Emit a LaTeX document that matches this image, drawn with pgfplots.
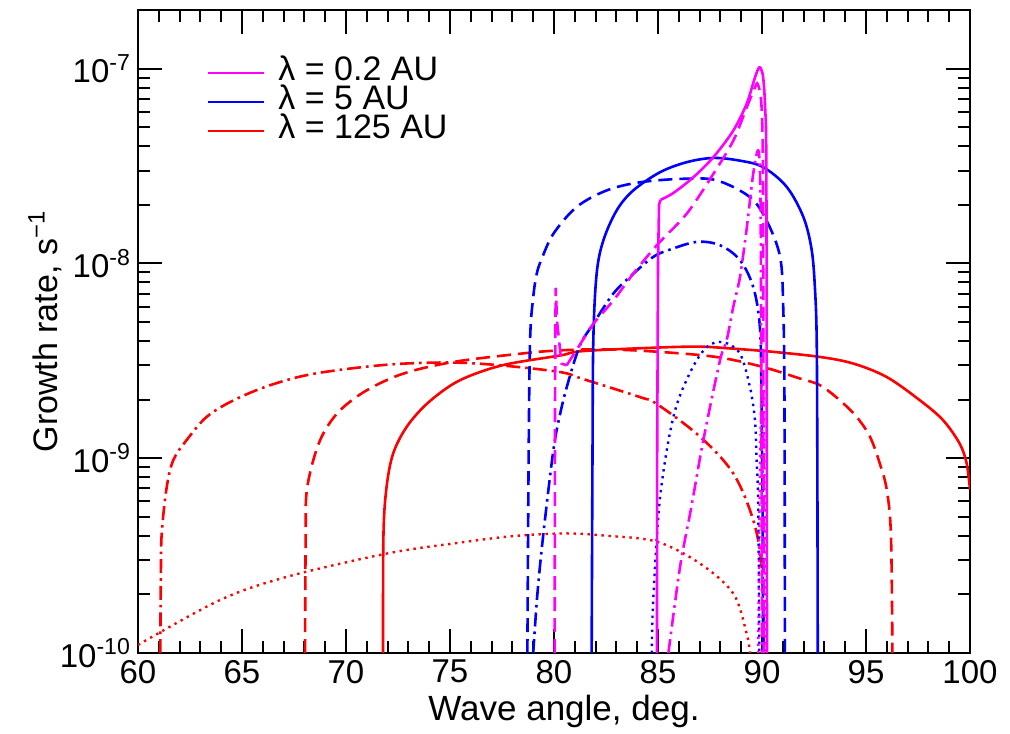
\documentclass[border=0pt]{standalone}
\usepackage{fontspec}
\setmainfont{Liberation Sans}
\usepackage{pgfplots}
\pgfplotsset{compat=1.18}
\definecolor{mag}{RGB}{255,0,255}
\definecolor{rd}{RGB}{255,0,0}
\definecolor{bl}{RGB}{0,0,255}
\begin{document}
\begin{tikzpicture}
\begin{axis}[
  scale only axis, width=416pt, height=321.5pt,
  xmin=60, xmax=100, ymin=1e-10, ymax=2e-7, ymode=log,
  xtick={60,65,...,100}, minor x tick num=4,
  ytick={1e-10,1e-9,1e-8,1e-7},
  yticklabels={10\textsuperscript{-10},10\textsuperscript{-9},10\textsuperscript{-8},10\textsuperscript{-7}},
  minor ytick={2e-10,3e-10,4e-10,5e-10,6e-10,7e-10,8e-10,9e-10,2e-9,3e-9,4e-9,5e-9,6e-9,7e-9,8e-9,9e-9,2e-8,3e-8,4e-8,5e-8,6e-8,7e-8,8e-8,9e-8},
  major tick length=12pt, minor tick length=6pt,
  every tick/.style={black, line width=1pt},
  axis line style={line width=1.2pt},
  tick label style={font=\fontsize{16.5}{19}\selectfont},
  /pgf/number format/assume math mode=true,
  xlabel={Wave angle, deg.}, ylabel={Growth rate, s\textsuperscript{−1}},
  every axis x label/.style={at={(axis description cs:0.5,0)}, anchor=center, xshift=5pt, yshift=-29pt, font=\fontsize{17.5}{20}\selectfont},
  every axis y label/.style={at={(axis description cs:0,0.5)}, xshift=-46.5pt, rotate=90, anchor=center, font=\fontsize{17}{20}\selectfont},
  legend style={at={(0.082,0.934)}, anchor=north west, draw=none, fill=none, inner sep=0pt,
    font=\fontsize{17}{19}\selectfont, nodes={inner sep=0.6pt, text height=13pt, text depth=0pt}, row sep=0.3pt},
  legend image code/.code={\draw[#1] (0pt,-3pt) -- (28pt,-3pt); \path (34pt,-3pt);},
  legend cell align=left,
]
\addlegendimage{mag, line width=1.3pt}\addlegendentry{λ = 0.2 AU}
\addlegendimage{bl, line width=1.3pt}\addlegendentry{λ = 5 AU}
\addlegendimage{rd, line width=1.3pt}\addlegendentry{λ = 125 AU}

% ---- red (125 AU)
\addplot[forget plot, rd, line width=1.3pt, smooth, tension=0.55] coordinates {
(71.78,1e-10) (71.80,4.0e-10) (71.95,7.1e-10) (72.27,1.06e-9) (72.92,1.45e-9) (73.88,1.9e-9)
(75.16,2.41e-9) (76.44,2.77e-9) (77.88,3.06e-9) (80.3,3.37e-9) (81.4,3.55e-9) (85.0,3.70e-9)
(87.0,3.74e-9) (88.5,3.66e-9) (90.5,3.52e-9) (92.8,3.31e-9) (94.4,3.06e-9) (96.0,2.61e-9)
(97.6,1.98e-9) (98.7,1.57e-9) (99.5,1.19e-9) (99.84,9.4e-10) (100,6.9e-10)};
\addplot[forget plot, rd, line width=1.3pt, smooth, tension=0.55, dash pattern=on 7pt off 3.5pt] coordinates {
(68.03,1e-10) (68.06,4e-10) (68.1,6.6e-10) (68.43,9.8e-10) (68.91,1.34e-9) (69.71,1.76e-9)
(70.99,2.23e-9) (72.76,2.72e-9) (75.16,3.12e-9) (78.37,3.44e-9) (80.29,3.58e-9) (82.5,3.62e-9)
(85,3.52e-9) (87.8,3.31e-9) (90,2.95e-9) (91.8,2.57e-9) (92.79,2.37e-9) (93.75,1.98e-9)
(94.55,1.63e-9) (95.19,1.29e-9) (95.67,9.35e-10) (96.0,6.86e-10) (96.2,4e-10) (96.27,1e-10)};
\addplot[forget plot, rd, line width=1.3pt, smooth, tension=0.55, dash pattern=on 7pt off 2.5pt on 1.3pt off 2.5pt] coordinates {
(61.07,1e-10) (61.1,2.5e-10) (61.14,4.1e-10) (61.38,7.1e-10) (61.7,9.8e-10) (62.34,1.24e-9)
(63.3,1.63e-9) (64.58,1.98e-9) (66.35,2.37e-9) (68.5,2.72e-9) (71.96,3.02e-9) (75.0,3.1e-9)
(77.4,3.0e-9) (80.29,2.77e-9) (81.4,2.55e-9) (84.13,2.06e-9) (84.94,1.9e-9) (87.02,1.29e-9)
(88.62,8.35e-10) (89.58,4.8e-10) (89.98,2.77e-10) (90.1,1e-10)};
\addplot[forget plot, rd, line width=1.2pt, smooth, tension=0.55, dash pattern=on 1.2pt off 2.3pt] coordinates {
(60,1.1e-10) (63.94,1.87e-10) (67.15,2.46e-10) (71.96,3.24e-10) (75.16,3.65e-10) (78.0,3.98e-10)
(80.61,4.11e-10) (82.5,4.0e-10) (84.94,3.73e-10) (87.02,2.88e-10) (88.62,2.02e-10)
(89.26,1.26e-10) (89.42,1e-10)};

% ---- blue (5 AU)
\addplot[forget plot, bl, line width=1.3pt, smooth, tension=0.55] coordinates {
(81.81,1e-10) (81.85,1e-9) (81.89,4.03e-9) (82.05,8.85e-9) (82.37,1.31e-8) (83.01,1.87e-8)
(83.81,2.37e-8) (85.1,2.94e-8) (86.38,3.31e-8) (87.66,3.48e-8) (88.94,3.37e-8) (90.06,3.12e-8)
(91.19,2.47e-8) (91.99,1.73e-8) (92.39,1.17e-8) (92.55,7.3e-9) (92.63,4.03e-9) (92.66,1e-9)
(92.68,1e-10)};
\addplot[forget plot, bl, line width=1.3pt, smooth, tension=0.55, dash pattern=on 7pt off 3.5pt] coordinates {
(78.72,1e-10) (78.78,1e-9) (78.85,4.03e-9) (79.0,6.7e-9) (79.17,8.85e-9) (79.4,1.05e-8)
(79.97,1.42e-8) (81.09,1.95e-8) (82.53,2.37e-8) (84.13,2.61e-8) (86.22,2.72e-8) (87.82,2.67e-8)
(89.42,2.19e-8) (90.22,1.66e-8) (90.87,1.08e-8) (91.02,5.97e-9) (91.08,2e-9) (91.1,1e-10)};
\addplot[forget plot, bl, line width=1.3pt, smooth, tension=0.55, dash pattern=on 7pt off 2.5pt on 1.3pt off 2.5pt] coordinates {
(79.0,1e-10) (79.2,2e-10) (79.49,4.1e-10) (79.97,1.1e-9) (80.3,1.7e-9) (80.7,2.5e-9)
(81.25,3.8e-9) (81.89,4.9e-9) (82.85,7.0e-9) (83.81,8.85e-9) (84.77,1.08e-8) (85.5,1.17e-8)
(86.86,1.29e-8) (87.98,1.24e-8) (88.94,1.04e-8) (89.58,7.55e-9) (89.9,4.7e-9) (89.98,2e-9)
(90.03,5e-10) (90.05,1e-10)};
\addplot[forget plot, bl, line width=1.2pt, smooth, tension=0.55, dash pattern=on 1.2pt off 2.3pt] coordinates {
(84.7,1e-10) (84.77,1.87e-10) (85.1,6.3e-10) (85.74,1.63e-9) (86.54,2.75e-9) (87.34,3.72e-9)
(88.14,3.94e-9) (88.94,3.44e-9) (89.42,2.32e-9) (89.66,1.57e-9) (89.74,9.8e-10) (89.82,5.6e-10)
(89.87,1e-10)};

% ---- magenta (0.2 AU)
\addplot[forget plot, mag, line width=1.3pt] coordinates {
(84.95,1e-10) (84.96,1e-9) (85.0,1.0e-8) (85.05,2.0e-8) (85.12,2.12e-8)};
\addplot[forget plot, mag, line width=1.3pt, smooth, tension=0.5] coordinates {
(85.12,2.12e-8) (85.74,2.3e-8)
(86.7,2.77e-8) (87.66,3.51e-8) (88.62,4.81e-8) (89.26,6.59e-8) (89.66,9.0e-8) (89.87,1.016e-7)
(90.02,9.5e-8) (90.1,8.0e-8) (90.16,6.0e-8) (90.2,4.3e-8) (90.22,1e-8) (90.24,1e-10)};
\addplot[forget plot, mag, line width=1.3pt, dash pattern=on 7pt off 3.5pt] coordinates {
(80.03,1e-10) (80.05,2e-9) (80.08,7.5e-9) (80.15,5e-9) (80.36,3.06e-9) (80.61,3.0e-9)};
\addplot[forget plot, mag, line width=1.3pt, smooth, tension=0.5, dash pattern=on 7pt off 3.5pt] coordinates {
(80.61,3.0e-9)
(81.17,3.72e-9) (81.89,4.9e-9) (82.85,6.45e-9) (83.81,8.85e-9) (84.94,1.24e-8) (86.38,1.8e-8)
(87.66,2.88e-8) (88.62,4.27e-8) (89.26,6.3e-8) (89.66,8.0e-8) (89.8,8.3e-8) (89.98,6.3e-8)
(90.05,2e-8) (90.08,1e-10)};
\addplot[forget plot, mag, line width=1.3pt, smooth, tension=0.5, dash pattern=on 7pt off 2.5pt on 1.3pt off 2.5pt] coordinates {
(85.5,1e-10) (86.06,2.77e-10) (86.6,5.6e-10) (87.18,1.24e-9) (87.98,3.18e-9) (88.3,4.03e-9)
(88.62,6.0e-9) (88.94,8.5e-9) (89.26,1.5e-8) (89.58,2.9e-8) (89.82,3.8e-8) (89.92,2.5e-8)
(89.96,5e-9) (90.0,1e-10)};
\addplot[forget plot, mag, line width=1.2pt, dash pattern=on 1.2pt off 2.3pt] coordinates {
(89.82,1e-10) (89.88,6e-10) (89.95,1.8e-9) (90.02,2.8e-9) (90.08,2.2e-9) (90.12,8e-10)
(90.15,1e-10)};
\end{axis}
\path ([xshift=-69pt,yshift=-40pt]current axis.south west) rectangle ([xshift=20pt,yshift=5pt]current axis.north east);
\end{tikzpicture}
\end{document}
